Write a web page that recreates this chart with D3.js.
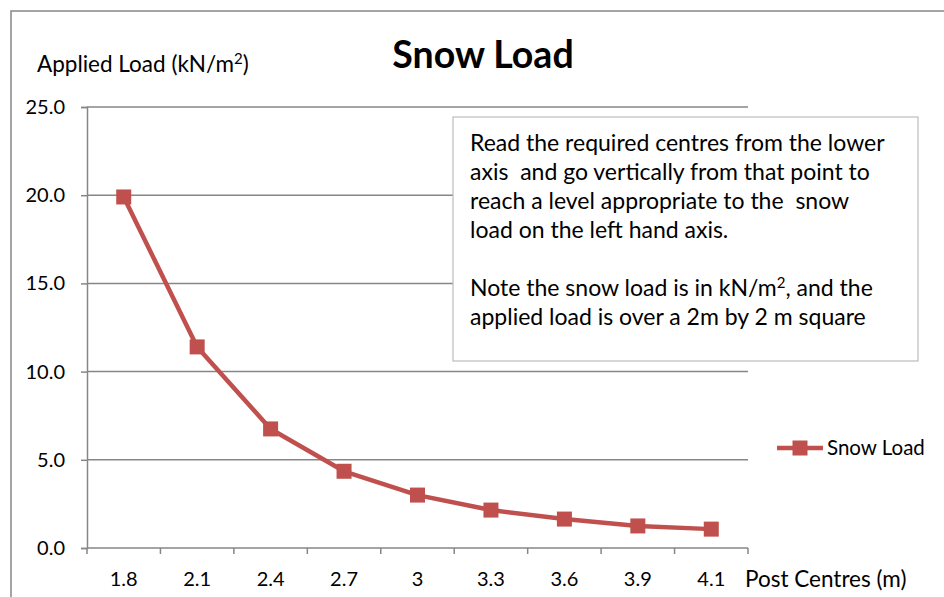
<!DOCTYPE html>
<html>
<head>
<meta charset="utf-8">
<script src="https://cdn.jsdelivr.net/npm/d3@7"></script>
<style>
  body { margin: 0; background: #fff; }
  svg { display: block; font-family: Lato, "Open Sans", sans-serif; }
</style>
</head>
<body>
<svg id="board" width="944" height="597"></svg>
<script>
// data
var centres = ["1.8", "2.1", "2.4", "2.7", "3", "3.3", "3.6", "3.9", "4.1"];
var snowLoad = [19.9, 11.4, 6.75, 4.35, 3.0, 2.15, 1.64, 1.25, 1.07];
var yTicks = [0, 5, 10, 15, 20, 25];
var noteLines = [
  "Read the required centres from the lower",
  "axis  and go vertically from that point to",
  "reach a level appropriate to the  snow",
  "load on the left hand axis.",
  "",
  "Note the snow load is in kN/m\u00b2, and the",
  "applied load is over a 2m by 2 m square"
];

var board = d3.select("#board");
var grey = "#868686";
var red = "#C0504D";

// outer chart frame
board.append("rect")
  .attr("x", 11).attr("y", 11)
  .attr("width", 960).attr("height", 620)
  .attr("fill", "white")
  .attr("stroke", grey)
  .attr("stroke-width", 1.5);

var plotL = 87, plotR = 748, plotT = 107, plotB = 548;

var x = d3.scaleBand().domain(centres).range([plotL, plotR]);
var y = d3.scaleLinear().domain([0, 25]).range([plotB, plotT]);

// gridlines
board.append("g").selectAll("line")
  .data(yTicks.filter(function(d){ return d > 0; }))
  .enter().append("line")
  .attr("x1", plotL).attr("x2", plotR)
  .attr("y1", function(d){ return y(d); })
  .attr("y2", function(d){ return y(d); })
  .attr("stroke", grey)
  .attr("stroke-width", 1.5);

// y axis
var yAxis = board.append("g")
  .attr("transform", "translate(" + plotL + ",0)")
  .call(d3.axisLeft(y).tickValues(yTicks).tickSize(6).tickPadding(16)
    .tickFormat(d3.format(".1f")));
yAxis.select(".domain").attr("stroke", grey).attr("stroke-width", 1.5);
yAxis.selectAll(".tick line").attr("stroke", grey).attr("stroke-width", 1.5);
yAxis.selectAll("text").attr("font-size", 20).attr("fill", "#000")
  .attr("font-family", "Lato, sans-serif");

// x axis, ticks between categories
var xAxis = board.append("g")
  .attr("transform", "translate(0," + plotB + ")");
xAxis.append("line")
  .attr("x1", plotL).attr("x2", plotR)
  .attr("stroke", grey).attr("stroke-width", 1.5);
var edges = centres.map(function(c){ return x(c); }).concat([plotR]);
xAxis.selectAll("line.tk").data(edges).enter().append("line")
  .attr("class", "tk")
  .attr("x1", function(d){ return d; }).attr("x2", function(d){ return d; })
  .attr("y1", 0).attr("y2", 6)
  .attr("stroke", grey).attr("stroke-width", 1.5);
xAxis.selectAll("text").data(centres).enter().append("text")
  .attr("x", function(d){ return x(d) + x.bandwidth() / 2; })
  .attr("y", 31)
  .attr("dy", "0.35em")
  .attr("text-anchor", "middle")
  .attr("font-size", 20)
  .text(function(d){ return d; });

board.append("text")
  .attr("x", 745).attr("y", plotB + 31)
  .attr("dy", "0.35em")
  .attr("font-size", 22.5)
  .text("Post Centres (m)");

// titles
board.append("text")
  .attr("x", 483).attr("y", 55)
  .attr("dy", "0.35em")
  .attr("text-anchor", "middle")
  .attr("font-size", 37.5)
  .attr("font-weight", "bold")
  .text("Snow Load");

var yt = board.append("text")
  .attr("x", 37).attr("y", 64)
  .attr("dy", "0.35em")
  .attr("font-size", 22.5);
yt.append("tspan").text("Applied Load (kN/m");
yt.append("tspan").attr("font-size", 15).attr("dy", -8).text("2");
yt.append("tspan").attr("dy", 8).text(")");

// series line
var line = d3.line()
  .x(function(d, i){ return x(centres[i]) + x.bandwidth() / 2; })
  .y(function(d){ return y(d); });

board.append("path")
  .datum(snowLoad)
  .attr("d", line)
  .attr("fill", "none")
  .attr("stroke", red)
  .attr("stroke-width", 4.5)
  .attr("stroke-linejoin", "round");

var ms = 15;
board.append("g").selectAll("rect")
  .data(snowLoad)
  .enter().append("rect")
  .attr("x", function(d, i){ return x(centres[i]) + x.bandwidth() / 2 - ms / 2; })
  .attr("y", function(d){ return y(d) - ms / 2; })
  .attr("width", ms).attr("height", ms)
  .attr("fill", red);

// note box
board.append("rect")
  .attr("x", 453).attr("y", 117)
  .attr("width", 465).attr("height", 244)
  .attr("fill", "white")
  .attr("stroke", "#bdbdbd")
  .attr("stroke-width", 1.2);

var note = board.append("g");
noteLines.forEach(function(s, i)
{
  var t = note.append("text")
    .attr("x", 470).attr("y", 143 + i * 29)
    .attr("dy", "0.35em")
    .attr("font-size", 23)
    .attr("xml:space", "preserve")
    .style("white-space", "pre");
  if (s.indexOf("\u00b2") >= 0) {
    var parts = s.split("\u00b2");
    t.append("tspan").text(parts[0]);
    t.append("tspan").attr("font-size", 15).attr("dy", -8).text("2");
    t.append("tspan").attr("dy", 8).text(parts[1]);
  } else {
    t.text(s);
  }
});

// legend
var lg = board.append("g").attr("transform", "translate(777,448)");
lg.append("line").attr("x1", 0).attr("x2", 46)
  .attr("stroke", red).attr("stroke-width", 4.5);
lg.append("rect").attr("x", 23 - ms / 2).attr("y", -ms / 2)
  .attr("width", ms).attr("height", ms).attr("fill", red);
lg.append("text").attr("x", 50).attr("y", 0).attr("dy", "0.35em")
  .attr("font-size", 20.5).text("Snow Load");
</script>
</body>
</html>
